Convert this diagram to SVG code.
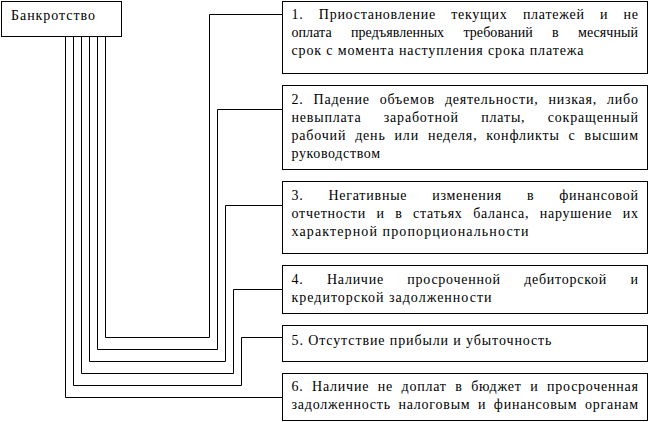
<svg xmlns="http://www.w3.org/2000/svg" width="650" height="422" viewBox="0 0 650 422">
<style>
rect{fill:#fff;stroke:#000;stroke-width:1}
.c path{fill:none;stroke:#000;stroke-width:1}
text{font-family:"Liberation Serif","Times New Roman",serif;font-size:14px;fill:#000}
</style>
<rect x="0" y="0" width="650" height="422" style="stroke:none"/>
<g class="c" id="connectors">
<path d="M105.5 36.5V337.5H209.5V14.5H282.5"/>
<path d="M97.5 36.5V349.5H217.5V109.5H282.5"/>
<path d="M89.5 36.5V361.5H225.5V205.5H282.5"/>
<path d="M81.5 36.5V373.5H233.5V289.5H282.5"/>
<path d="M73.5 36.5V385.5H241.5V337.5H282.5"/>
<path d="M65.5 36.5V397.5H282.5"/>
</g>
<g id="root">
<rect x="1.5" y="1.5" width="120" height="35"/>
<text x="11" y="20" textLength="84" lengthAdjust="spacing">Банкротство</text>
</g>
<g id="n1">
<rect x="282.5" y="1.5" width="365" height="72"/>
<text x="291.5" y="19" word-spacing="11.1" textLength="346.5" lengthAdjust="spacing">1. Приостановление текущих платежей и не</text>
<text x="291.5" y="37" word-spacing="15.7" textLength="346.5" lengthAdjust="spacing">оплата предъявленных требований в месячный</text>
<text x="291.5" y="55" textLength="292" lengthAdjust="spacing">срок с момента наступления срока платежа</text>
</g>
<g id="n2">
<rect x="282.5" y="85.5" width="365" height="84"/>
<text x="291.5" y="104" word-spacing="5.8" textLength="346.5" lengthAdjust="spacing">2. Падение объемов деятельности, низкая, либо</text>
<text x="291.5" y="122" word-spacing="18" textLength="346.5" lengthAdjust="spacing">невыплата заработной платы, сокращенный</text>
<text x="291.5" y="140" word-spacing="4.6" textLength="346.5" lengthAdjust="spacing">рабочий день или неделя, конфликты с высшим</text>
<text x="291.5" y="158" textLength="88.5" lengthAdjust="spacing">руководством</text>
</g>
<g id="n3">
<rect x="282.5" y="181.5" width="365" height="72"/>
<text x="291.5" y="200" word-spacing="20.6" textLength="346.5" lengthAdjust="spacing">3. Негативные изменения в финансовой</text>
<text x="291.5" y="218" word-spacing="6.3" textLength="346.5" lengthAdjust="spacing">отчетности и в статьях баланса, нарушение их</text>
<text x="291.5" y="236" textLength="237" lengthAdjust="spacing">характерной пропорциональности</text>
</g>
<g id="n4">
<rect x="282.5" y="265.5" width="365" height="48"/>
<text x="291.5" y="284" word-spacing="19.2" textLength="346.5" lengthAdjust="spacing">4. Наличие просроченной дебиторской и</text>
<text x="291.5" y="302" textLength="200" lengthAdjust="spacing">кредиторской задолженности</text>
</g>
<g id="n5">
<rect x="282.5" y="325.5" width="365" height="36"/>
<text x="291.5" y="345" textLength="260" lengthAdjust="spacing">5. Отсутствие прибыли и убыточность</text>
</g>
<g id="n6">
<rect x="282.5" y="373.5" width="365" height="47"/>
<text x="291.5" y="391" word-spacing="4.3" textLength="346.5" lengthAdjust="spacing">6. Наличие не доплат в бюджет и просроченная</text>
<text x="291.5" y="409" word-spacing="3.3" textLength="346.5" lengthAdjust="spacing">задолженность налоговым и финансовым органам</text>
</g>
</svg>
